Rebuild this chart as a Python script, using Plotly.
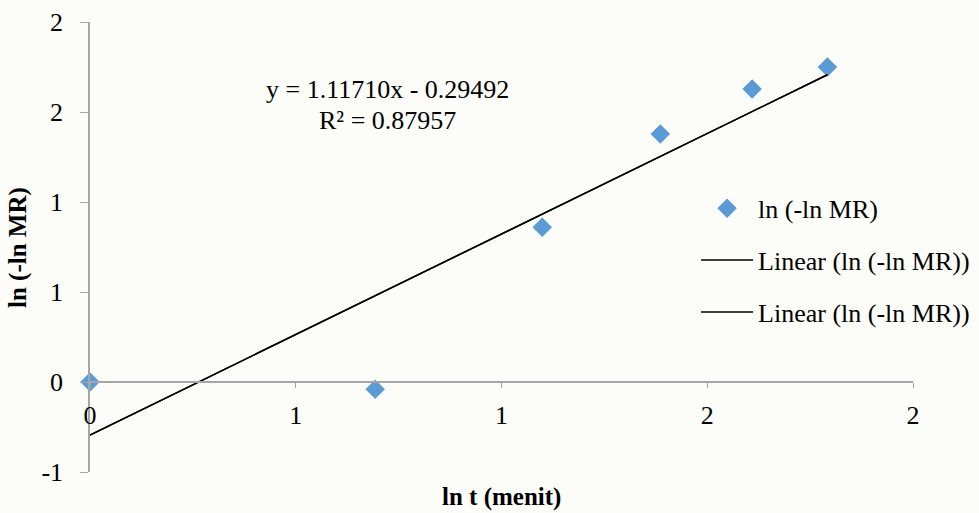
import plotly.graph_objects as go

# Drying kinetics: ln(-ln MR) against ln t
ln_t = [0.0, 0.693, 1.099, 1.386, 1.609, 1.792]
ln_neg_ln_mr = [0.0, -0.04, 0.86, 1.378, 1.628, 1.75]

# Linear trendline parameters (as shown on the chart)
slope = 1.11710
intercept = -0.29492
r_squared = 0.87957

# Axis ticks (labels rounded to whole numbers)
x_tickvals = [0, 0.5, 1.0, 1.5, 2.0]
x_ticktext = ["0", "1", "1", "2", "2"]
y_tickvals = [-0.5, 0, 0.5, 1.0, 1.5, 2.0]
y_ticktext = ["-1", "0", "1", "1", "2", "2"]

FONT = "Liberation Serif, Times New Roman, serif"
FS = 26
AXIS_GREY = "#a6a6a6"
BLUE = "#5b9bd5"

x_line = [min(ln_t), max(ln_t)]
y_line = [slope * v + intercept for v in x_line]

fig = go.Figure()

fig.add_trace(go.Scatter(
    x=ln_t, y=ln_neg_ln_mr, mode="markers", name="ln (-ln MR)",
    marker=dict(symbol="diamond", size=15, color=BLUE),
    legendgroup="a", cliponaxis=False,
))
for grp in ("b", "c"):
    fig.add_trace(go.Scatter(
        x=x_line, y=y_line, mode="lines", name="Linear (ln (-ln MR))",
        line=dict(color="black", width=1.5),
        legendgroup=grp,
    ))

# Trendline equation and R²
fig.add_annotation(
    x=0.362, y=0.849, xref="paper", yref="paper", showarrow=False,
    xanchor="center", yanchor="middle",
    text=f"y = {slope:.5f}x - {abs(intercept):.5f}",
    font=dict(family=FONT, size=FS, color="black"),
)
fig.add_annotation(
    x=0.362, y=0.780, xref="paper", yref="paper", showarrow=False,
    xanchor="center", yanchor="middle",
    text=f"R² = {r_squared:.5f}",
    font=dict(family=FONT, size=FS, color="black"),
)

# Axis titles
fig.add_annotation(
    x=0.5006, y=-0.056, xref="paper", yref="paper", showarrow=False,
    xanchor="center", yanchor="middle",
    text="<b>ln t (menit)</b>",
    font=dict(family=FONT, size=FS - 1, color="black"),
)
fig.add_annotation(
    x=-0.0875, y=0.5, xref="paper", yref="paper", showarrow=False,
    xanchor="center", yanchor="middle", textangle=-90,
    text="<b>ln (-ln MR)</b>",
    font=dict(family=FONT, size=FS - 1, color="black"),
)

fig.update_layout(
    width=979, height=513,
    margin=dict(l=90, r=66, t=22, b=41, autoexpand=False),
    paper_bgcolor="#fcfdf8",
    plot_bgcolor="#fcfdf8",
    font=dict(family=FONT, size=FS, color="black"),
    showlegend=True,
    legend=dict(
        x=0.7364, y=0.638, xanchor="left", yanchor="top",
        bgcolor="rgba(0,0,0,0)",
        font=dict(family=FONT, size=FS, color="black"),
        traceorder="grouped", tracegroupgap=15,
        itemwidth=52,
    ),
    xaxis=dict(
        range=[0, 2.0], tickvals=x_tickvals, ticktext=x_ticktext,
        showgrid=False, zeroline=False,
        showline=True, linecolor=AXIS_GREY, linewidth=1.5,
        ticks="outside", ticklen=5, tickcolor=AXIS_GREY,
        anchor="free", position=0.2,
        ticklabelstandoff=5,
    ),
    yaxis=dict(
        range=[-0.5, 2.0], tickvals=y_tickvals, ticktext=y_ticktext,
        showgrid=False, zeroline=False,
        showline=True, linecolor=AXIS_GREY, linewidth=1.5,
        ticks="outside", ticklen=8, tickcolor=AXIS_GREY,
        ticklabelstandoff=12,
    ),
)

fig.write_html("out.html")
